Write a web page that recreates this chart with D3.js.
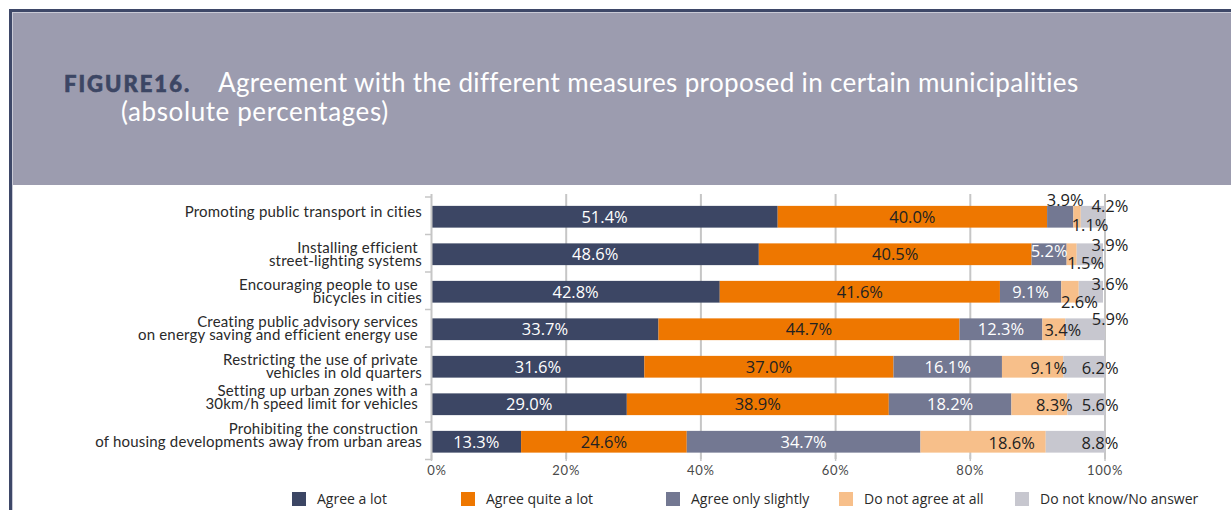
<!DOCTYPE html>
<html>
<head>
<meta charset="utf-8">
<script src="https://cdn.jsdelivr.net/npm/d3@7"></script>
<style>
  html, body { margin: 0; padding: 0; background: #fff; }
  svg { display: block; }
  text { white-space: pre; }
</style>
</head>
<body>
<svg id="chart" width="1231" height="510"></svg>
<script>
// Survey measures (one per bar), with manual line breaks
const categories = [
  "Promoting public transport in cities",
  "Installing efficient \nstreet-lighting systems",
  "Encouraging people to use \nbicycles in cities",
  "Creating public advisory services \non energy saving and efficient energy use ",
  "Restricting the use of private \nvehicles in old quarters",
  "Setting up urban zones with a \n30km/h speed limit for vehicles ",
  "Prohibiting the construction \nof housing developments away from urban areas"
];

// Response shares (%)
const agreeALot        = [51.4, 48.6, 42.8, 33.7, 31.6, 29.0, 13.3];
const agreeQuiteALot   = [40.0, 40.5, 41.6, 44.7, 37.0, 38.9, 24.6];
const agreeOnlySlightly= [3.9, 5.2, 9.1, 12.3, 16.1, 18.2, 34.7];
const doNotAgreeAtAll  = [1.1, 1.5, 2.6, 3.4, 9.1, 8.3, 18.6];
const doNotKnow        = [4.2, 3.9, 3.6, 5.9, 6.2, 5.6, 8.8];

const seriesNames = ["Agree a lot", "Agree quite a lot", "Agree only slightly", "Do not agree at all", "Do not know/No answer"];
const seriesValues = [agreeALot, agreeQuiteALot, agreeOnlySlightly, doNotAgreeAtAll, doNotKnow];
const xTicks = [0, 20, 40, 60, 80, 100];

// ---- styling / layout ----
const colors = ["#3c4664", "#ee7700", "#737892", "#f7bf8a", "#c7c7cf"];
const labelInk = ["#ffffff", "#222222", "#ffffff", "#222222", "#222222"];
// vertical nudges for category labels (px)
const catNudge = [-5, 0, 0, -1, 0, -7, -6];
// value-label offsets [dx, dy] (px) keyed "row,series"
const labelShift = {
  "0,2": [5, -16.7], "0,3": [13, 8], "0,4": [17, -10.5],
  "1,2": [0, -3], "1,3": [14, 9], "1,4": [20, -9.2],
  "2,3": [9.5, 10], "2,4": [19, -7.5],
  "3,3": [9, 1.3], "3,4": [25, -10],
  "4,3": [16, 1], "4,4": [16, 1],
  "5,3": [15, 1], "5,4": [14, 1],
  "6,3": [28.6, 1], "6,4": [24.6, 1]
};
const legendX = [292, 461, 666, 839, 1015];

const svg = d3.select("#chart");
const W = 1231, H = 510;

// ---- header panel ----
svg.append("rect").attr("x", 10).attr("y", 10).attr("width", W - 10).attr("height", 175).attr("fill", "#9c9caf");
svg.append("rect").attr("x", 9).attr("y", 9).attr("width", W - 9).attr("height", 3).attr("fill", "#3e4868");
svg.append("rect").attr("x", 12).attr("y", 12).attr("width", W - 12).attr("height", 1).attr("fill", "#c9cad6");
svg.append("rect").attr("x", 9).attr("y", 9).attr("width", 3).attr("height", H - 9).attr("fill", "#3e4868");
svg.append("rect").attr("x", 12).attr("y", 12).attr("width", 1).attr("height", H - 12).attr("fill", "#c9cad6");

const titleFont = "Lato, 'Open Sans', sans-serif";
svg.append("text").attr("x", 64).attr("y", 92)
  .style("font-family", titleFont).style("font-size", "22px").style("font-weight", 900)
  .style("letter-spacing", "2px").attr("fill", "#3c4664")
  .attr("stroke", "#3c4664").attr("stroke-width", 0.6)
  .text("FIGURE16.");
svg.append("text").attr("x", 218).attr("y", 92)
  .style("font-family", titleFont).style("font-size", "26px").style("letter-spacing", "0.35px").attr("fill", "#ffffff")
  .text("Agreement with the different measures proposed in certain municipalities");
svg.append("text").attr("x", 121).attr("y", 121)
  .style("font-family", titleFont).style("font-size", "26px").style("letter-spacing", "0.6px").attr("fill", "#ffffff")
  .text("(absolute percentages)");

// ---- scales ----
const x = d3.scaleLinear().domain([0, 100]).range([431.5, 1105]).clamp(true);
const y = d3.scaleBand().domain(categories).range([198, 460.5]).paddingInner(0.42).paddingOuter(0.21);

const g = svg.append("g");

// gridlines
g.selectAll("line.grid").data(xTicks.slice(1)).join("line")
  .attr("x1", d => x(d)).attr("x2", d => x(d))
  .attr("y1", 194).attr("y2", 459)
  .attr("stroke", "#c6c6c6").attr("stroke-width", 2);

// stacked rows
const rows = categories.map((c, i) => {
  let acc = 0;
  return seriesValues.map((vals, s) => {
    const v = vals[i];
    const seg = { row: i, series: s, cat: c, v, x0: acc, x1: acc + v };
    acc += v;
    return seg;
  });
});
const segs = rows.flat();

g.selectAll("rect.seg").data(segs).join("rect")
  .attr("x", d => x(d.x0))
  .attr("width", d => Math.max(0, x(d.x1) - x(d.x0)))
  .attr("y", d => y(d.cat))
  .attr("height", y.bandwidth())
  .attr("fill", d => colors[d.series]);

// y axis line and category separators
g.append("line").attr("x1", 431.5).attr("x2", 431.5).attr("y1", 194).attr("y2", 460)
  .attr("stroke", "#c6c6c6").attr("stroke-width", 2);
const r0 = y.range()[0];
g.selectAll("line.sep").data(d3.range(categories.length + 1)).join("line")
  .attr("x1", 425).attr("x2", 431.5)
  .attr("y1", i => r0 - 1 + i * y.step()).attr("y2", i => r0 - 1 + i * y.step())
  .attr("stroke", "#c6c6c6").attr("stroke-width", 1.5);

// x ticks
g.selectAll("line.xt").data(xTicks).join("line")
  .attr("x1", d => x(d)).attr("x2", d => x(d)).attr("y1", 455).attr("y2", 461)
  .attr("stroke", "#c6c6c6").attr("stroke-width", 1.5);
g.selectAll("text.xt").data(xTicks).join("text")
  .attr("x", d => x(d) + (d === 0 ? 5.5 : 0)).attr("y", 475)
  .attr("text-anchor", "middle")
  .style("font-family", "Lato, 'Open Sans', sans-serif").style("font-size", "13px")
  .style("letter-spacing", "0.8px").attr("fill", "#4a4a4a")
  .text(d => d + "%");

// category labels
g.selectAll("text.cat").data(categories).join("text")
  .attr("text-anchor", "end")
  .style("font-family", "Lato, 'Open Sans', sans-serif").style("font-size", "15px")
  .style("letter-spacing", "0.2px").attr("fill", "#2a2a2a")
  .each(function (d, i) {
    const lines = d.split("\n");
    const cy = y(d) + y.bandwidth() / 2 + catNudge[i];
    const lh = 13;
    const top = cy - (lines.length - 1) * lh / 2;
    d3.select(this).selectAll("tspan").data(lines).join("tspan")
      .attr("x", 422).attr("y", (l, k) => top + k * lh + 5).text(l => l);
  });

// value labels
const fs = 16.5;
g.selectAll("text.val").data(segs).join("text")
  .attr("text-anchor", "middle")
  .style("font-family", "'Open Sans', sans-serif").style("font-size", fs + "px")
  .attr("fill", d => {
    const sh = labelShift[d.row + "," + d.series];
    const outside = sh && Math.abs(sh[1]) > 5;
    return outside ? "#222222" : labelInk[d.series];
  })
  .attr("x", d => {
    const sh = labelShift[d.row + "," + d.series] || [0, 0];
    return (x(d.x0) + x(d.x1)) / 2 + sh[0];
  })
  .attr("y", d => {
    const sh = labelShift[d.row + "," + d.series] || [0, 0];
    return y(d.cat) + y.bandwidth() / 2 + sh[1] + fs * 0.357;
  })
  .text(d => d.v.toFixed(1) + "%");

// legend
const leg = svg.append("g").selectAll("g").data(seriesNames).join("g")
  .attr("transform", (d, i) => `translate(${legendX[i]},492)`);
leg.append("rect").attr("width", 14).attr("height", 14).attr("fill", (d, i) => colors[i]);
leg.append("text").attr("x", 25).attr("y", 12)
  .style("font-family", "'Open Sans', sans-serif").style("font-size", "14px").attr("fill", "#2a2a2a")
  .text(d => d);
</script>
</body>
</html>
